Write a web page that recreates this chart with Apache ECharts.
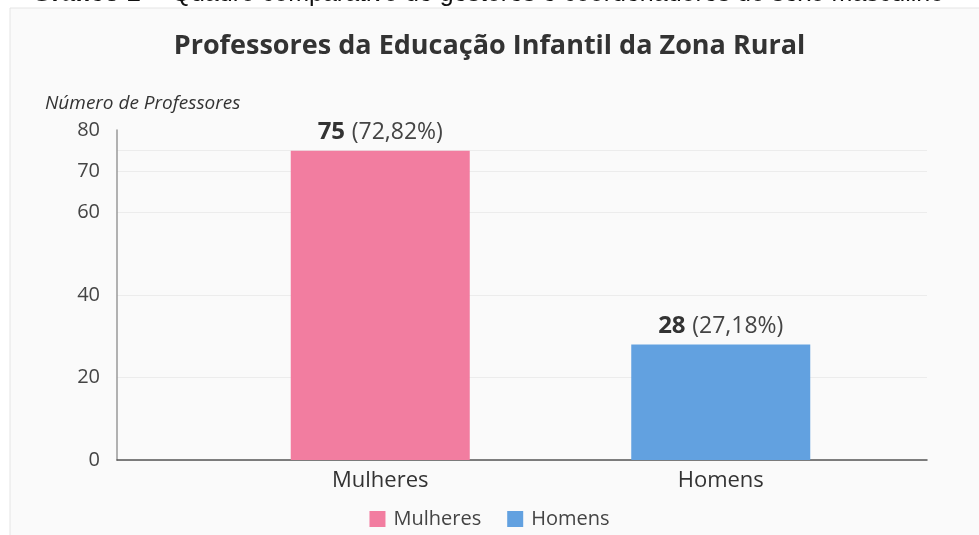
<!DOCTYPE html>
<html>
<head>
<meta charset="utf-8">
<script src="https://cdn.jsdelivr.net/npm/echarts@6/dist/echarts.min.js"></script>
<style>
  html, body { margin: 0; padding: 0; background: #fff; }
  #chart { width: 979px; height: 535px; }
</style>
</head>
<body>
<div id="chart"></div>
<script>
// dados do gráfico
const categorias = ['Mulheres', 'Homens']
const mulheres = [75, '-']
const homens = ['-', 28]
const yLabels = [0, 20, 40, 60, 70, 80]
const yLines = [0, 20, 40, 60, 70, 75]

const total = 75 + 28
const cores = ['#f27da0', '#62a1e0']

const chart = echarts.init(document.getElementById('chart'))

function rotulo(p) {
  const pct = (p.value / total * 100).toFixed(2).replace('.', ',')
  return '{b|' + p.value + '}  {n|(' + pct + '%)}'
}

const rich = {
  b: { fontFamily: 'Open Sans', fontWeight: 'bold', fontSize: 24, color: '#333' },
  n: { fontFamily: 'Open Sans', fontSize: 23, color: '#444' }
}

chart.setOption({
  backgroundColor: '#fff',
  color: cores,
  graphic: [
    {
      type: 'rect', z: -10, silent: true,
      shape: { x: 10, y: 8, width: 975, height: 535 },
      style: { fill: '#fafafa', stroke: '#e4e4e4', lineWidth: 1 }
    },
    {
      type: 'text', z: 10, silent: true,
      style: {
        x: 32, y: 7,
        verticalAlign: 'bottom',
        text: '{t|Gráfico 1} {s|–  Quadro comparativo de gestores e coordenadores do sexo masculino}',
        rich: {
          t: { fontFamily: 'Liberation Sans', fontWeight: 'bold', fontSize: 25, fill: '#111' },
          s: { fontFamily: 'Liberation Sans', fontSize: 25, fill: '#111' }
        }
      }
    }
  ],
  title: [
    {
      text: 'Professores da Educação Infantil da Zona Rural',
      left: 'center',
      top: 28,
      textStyle: { fontFamily: 'Open Sans', fontWeight: 'bold', fontSize: 27, color: '#333' }
    },
    {
      text: 'Número de Professores',
      left: 40,
      top: 89,
      textStyle: { fontFamily: 'Open Sans', fontStyle: 'italic', fontWeight: 'normal', fontSize: 19, color: '#333' }
    }
  ],
  legend: {
    data: categorias,
    bottom: 1,
    left: 'center',
    itemWidth: 16,
    itemHeight: 16,
    itemGap: 26,
    icon: 'rect',
    textStyle: { fontFamily: 'Open Sans', fontSize: 20, color: '#444', padding: [0, 0, 0, 3] }
  },
  grid: [
    // grade de fundo: eixos e linhas
    { left: 117, right: 52, top: 130, bottom: 75 },
    // grade das barras
    { left: 210, right: 88, top: 130, bottom: 75 }
  ],
  xAxis: [
    {
      type: 'category',
      gridIndex: 0,
      data: categorias,
      axisLine: { lineStyle: { color: '#555', width: 1.5 } },
      axisTick: { show: false },
      axisLabel: { show: false }
    },
    {
      type: 'category',
      gridIndex: 1,
      data: categorias,
      axisLine: { show: false },
      axisTick: { show: false },
      axisLabel: { margin: 10, fontFamily: 'Open Sans', fontSize: 22, color: '#333' }
    }
  ],
  yAxis: [
    {
      type: 'value',
      gridIndex: 0,
      min: 0,
      max: 80,
      interval: 10,
      axisLine: { show: true, lineStyle: { color: '#999', width: 1.5 } },
      axisTick: { show: false, customValues: yLines },
      axisLabel: {
        customValues: yLabels,
        margin: 17,
        fontFamily: 'Open Sans',
        fontSize: 20,
        color: '#444'
      },
      splitLine: { show: true, lineStyle: { color: '#ececec', width: 1 } }
    },
    {
      type: 'value',
      gridIndex: 1,
      min: 0,
      max: 80,
      show: false,
      splitLine: { show: false }
    }
  ],
  series: [
    {
      name: 'Mulheres',
      type: 'bar',
      xAxisIndex: 1,
      yAxisIndex: 1,
      stack: 'total',
      barWidth: 179,
      data: mulheres,
      label: { show: true, position: 'top', distance: 6, formatter: rotulo, rich: rich }
    },
    {
      name: 'Homens',
      type: 'bar',
      xAxisIndex: 1,
      yAxisIndex: 1,
      stack: 'total',
      barWidth: 179,
      data: homens,
      label: { show: true, position: 'top', distance: 6, formatter: rotulo, rich: rich }
    }
  ]
})
</script>
</body>
</html>
